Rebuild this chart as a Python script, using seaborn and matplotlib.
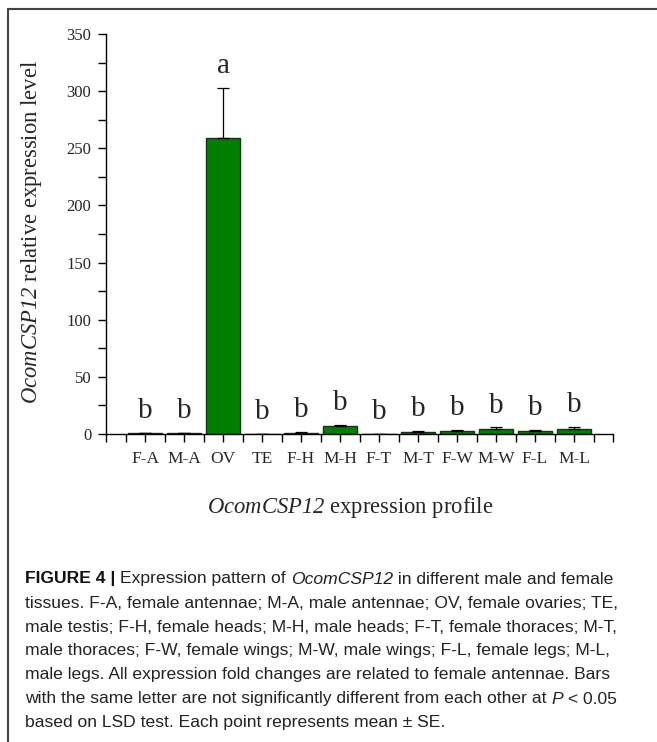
import numpy as np
import pandas as pd
import seaborn as sns
import matplotlib
matplotlib.use('Agg')
import matplotlib.pyplot as plt
from matplotlib.lines import Line2D
from matplotlib.ticker import MultipleLocator

# data
tissues = ['F-A', 'M-A', 'OV', 'TE', 'F-H', 'M-H', 'F-T', 'M-T', 'F-W', 'M-W', 'F-L', 'M-L']
means = [1.0, 0.8, 259.0, 0.2, 1.3, 7.0, 0.3, 2.0, 2.6, 4.4, 2.2, 4.7]
se = [0.1, 0.1, 44.0, 0.05, 0.3, 0.9, 0.05, 0.6, 0.6, 1.4, 1.0, 1.4]
letters = ['b', 'b', 'a', 'b', 'b', 'b', 'b', 'b', 'b', 'b', 'b', 'b']

# caption lines, as (text, style) pieces
caption = [
    [('FIGURE 4 | ', 'bold'), ('Expression pattern of ', 'normal'), ('OcomCSP12', 'italic'),
     (' in different male and female', 'normal')],
    [('tissues. F-A, female antennae; M-A, male antennae; OV, female ovaries; TE,', 'normal')],
    [('male testis; F-H, female heads; M-H, male heads; F-T, female thoraces; M-T,', 'normal')],
    [('male thoraces; F-W, female wings; M-W, male wings; F-L, female legs; M-L,', 'normal')],
    [('male legs. All expression fold changes are related to female antennae. Bars', 'normal')],
    [('with the same letter are not significantly different from each other at ', 'normal'),
     ('P', 'italic'), (' < 0.05', 'normal')],
    [('based on LSD test. Each point represents mean \u00b1 SE.', 'normal')],
]

sns.set_style('ticks')
plt.rcParams['font.family'] = ['Liberation Serif', 'DejaVu Serif']
# italic serif for the gene name (digits included)
plt.rcParams['mathtext.fontset'] = 'custom'
plt.rcParams['mathtext.rm'] = 'Liberation Serif:italic'
plt.rcParams['mathtext.it'] = 'Liberation Serif:italic'
plt.rcParams['mathtext.bf'] = 'Liberation Serif:italic'

W, H = 657, 742
fig = plt.figure(figsize=(W / 100, H / 100), dpi=100)
ax = fig.add_axes([106 / W, 1 - 434 / H, (613 - 106) / W, 400 / H])

df = pd.DataFrame({'tissue': tissues, 'mean': means, 'se': se})
sns.barplot(data=df, x='tissue', y='mean', color='#007f00', saturation=1,
            width=0.85, edgecolor='#123812', linewidth=1, ax=ax)

x = np.arange(len(tissues))
ax.errorbar(x, df['mean'], yerr=[np.zeros(len(se)), df['se']], fmt='none',
            ecolor='black', elinewidth=0.9, capsize=4.5, capthick=0.9)

for xi, m, s, l in zip(x, means, se, letters):
    ax.text(xi, m + s + 13, l, ha='center', va='baseline', fontsize=21)

ax.set_xlim(-1, 12)
ax.set_ylim(0, 350)
ax.xaxis.set_minor_locator(MultipleLocator(0.5))
ax.yaxis.set_major_locator(MultipleLocator(50))
ax.yaxis.set_minor_locator(MultipleLocator(25))
ax.tick_params(which='both', direction='out', length=6, width=1, color='black')
ax.tick_params(axis='x', labelsize=12.5, pad=6)
ax.tick_params(axis='y', labelsize=12, pad=4.5)
ax.set_xlabel('')
ax.set_ylabel('')
sns.despine(ax=ax)
for sp in ['left', 'bottom']:
    ax.spines[sp].set_linewidth(1)
    ax.spines[sp].set_color('black')

fig.text(32 / W, 1 - 232 / H, r'$OcomCSP12$ relative expression level',
         rotation=90, ha='center', va='center', fontsize=16.3, math_fontfamily='custom')
fig.text(350 / W, 1 - 507 / H, r'$OcomCSP12$ expression profile',
         ha='center', va='center', fontsize=16.3, math_fontfamily='custom')

# caption, pieces chained one after the other
ys = [579, 603, 627, 651, 675, 699, 723]
for pieces, yy in zip(caption, ys):
    txt = None
    for s, sty in pieces:
        kw = dict(fontsize=12.6, family='Liberation Sans', color='#222222',
                  weight='bold' if sty == 'bold' else 'normal',
                  style='italic' if sty == 'italic' else 'normal')
        if sty == 'bold':
            kw['color'] = '#111111'
        if txt is None:
            txt = fig.text(25 / W, 1 - yy / H, s, ha='left', va='center', **kw)
        else:
            txt = ax.annotate(s, xy=(1, 0), xycoords=txt, ha='left', va='bottom', **kw)

# frame around the figure panel
fig.add_artist(Line2D([8 / W, 1], [1 - 8.5 / H, 1 - 8.5 / H], transform=fig.transFigure,
                      color='#444444', lw=1.5))
fig.add_artist(Line2D([8 / W, 8 / W], [0, 1 - 8.5 / H], transform=fig.transFigure,
                      color='#444444', lw=1.5))

fig.savefig('out.png', dpi=100)
